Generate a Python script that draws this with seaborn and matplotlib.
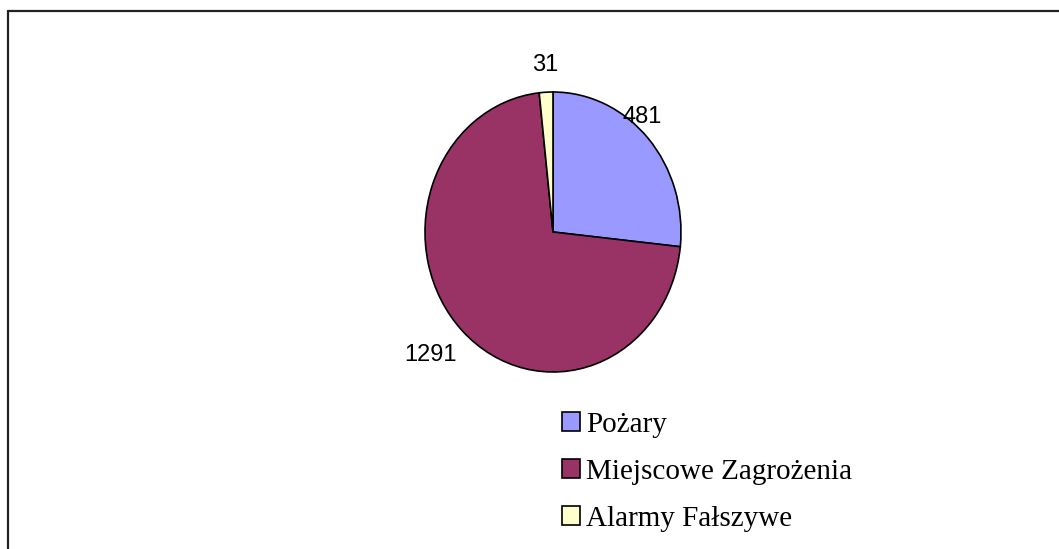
import matplotlib
matplotlib.use('Agg')
import matplotlib.pyplot as plt
import matplotlib.patches as mpatches
from matplotlib.lines import Line2D
import seaborn as sns

# dane
categories = ['Pożary', 'Miejscowe Zagrożenia', 'Alarmy Fałszywe']
values = [481, 1291, 31]
colors = ['#9999FF', '#993366', '#FFFFCC']

# położenie etykiet wartości (współrzędne osi)
label_pos = [(0.70, 0.82), (-0.96, -0.88), (-0.06, 1.19)]

sns.set_theme(style='white')
plt.rcParams['font.family'] = ['Liberation Sans', 'DejaVu Sans']
plt.rcParams['text.color'] = 'black'

W, H = 1059, 549
fig = plt.figure(figsize=(W / 100, H / 100), dpi=100)

# oś wykresu kołowego (lekko spłaszczona jak w oryginale)
cx, cy, rx, ry = 553, 232, 128, 140
ax = fig.add_axes([(cx - rx) / W, (H - cy - ry) / H, 2 * rx / W, 2 * ry / H])
wedges, _ = ax.pie(
    values,
    colors=colors,
    startangle=90,
    counterclock=False,
    wedgeprops={'edgecolor': 'black', 'linewidth': 1.2},
)
ax.set_aspect('auto')
ax.set_xlim(-1, 1)
ax.set_ylim(-1, 1)
ax.axis('off')

for v, (x, y) in zip(values, label_pos):
    ax.text(x, y, str(v), ha='center', va='center', fontsize=17, color='black')

# legenda
handles = [mpatches.Patch(facecolor=c, edgecolor='black', linewidth=1.2) for c in colors]
fig.legend(
    handles, categories,
    loc='upper left',
    bbox_to_anchor=(562 / W, 1 - 412 / H),
    frameon=False,
    prop={'family': 'Liberation Serif', 'size': 21},
    handlelength=0.6,
    handleheight=0.6,
    handletextpad=0.22,
    labelspacing=0.72,
    borderaxespad=0,
    borderpad=0,
)

# ramka
fig.add_artist(Line2D([8 / W, 1], [1 - 11 / H, 1 - 11 / H], color='#222222', linewidth=1.6,
                      transform=fig.transFigure))
fig.add_artist(Line2D([8 / W, 8 / W], [0, 1 - 11 / H], color='#222222', linewidth=1.6,
                      transform=fig.transFigure))

fig.savefig('out.png', dpi=100)
